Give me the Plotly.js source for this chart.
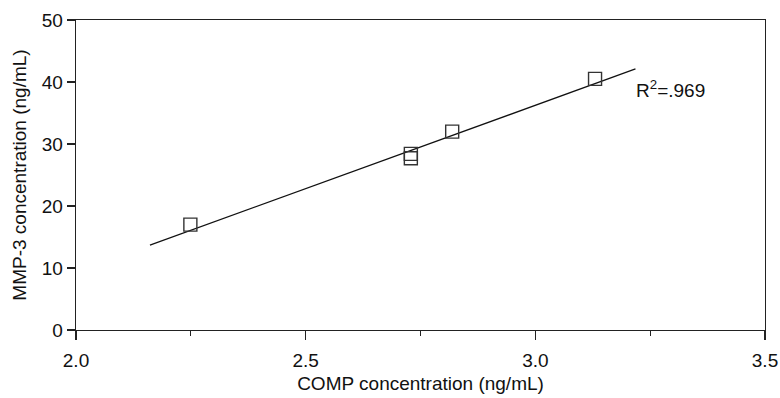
<!DOCTYPE html>
<html>
<head>
<meta charset="utf-8">
<script src="https://cdn.plot.ly/plotly-3.0.1.min.js"></script>
<style>html,body{margin:0;padding:0;background:#fff;}#chart{width:780px;height:398px;}</style>
</head>
<body>
<div id="chart"></div>
<script>
// Observed data (COMP vs MMP-3)
const compValues = [2.249, 2.729, 2.729, 2.819, 3.130];
const mmp3Values = [17.0, 28.4, 27.7, 32.0, 40.5];
// Regression line endpoints as drawn
const fitX = [2.161, 3.218];
const fitY = [13.7, 42.1];
const xTickVals = [2.0, 2.5, 3.0, 3.5];
const xTickText = ['2.0', '2.5', '3.0', '3.5'];
const yTickVals = [0, 10, 20, 30, 40, 50];
const r2Label = 'R<sup>2</sup>=.969';

const font = {family: 'Liberation Sans, Arial, sans-serif', size: 19, color: '#111'};

const traces = [
  {x: fitX, y: fitY, mode: 'lines', type: 'scatter',
   line: {color: '#111', width: 1.3}, hoverinfo: 'skip'},
  {x: compValues, y: mmp3Values, mode: 'markers', type: 'scatter',
   marker: {symbol: 'square-open', size: 13, color: '#333', line: {width: 1.4, color: '#333'}}}
];

const layout = {
  width: 780, height: 398,
  margin: {l: 76, r: 15, t: 20, b: 68},
  paper_bgcolor: '#fff', plot_bgcolor: '#fff',
  showlegend: false,
  font: font,
  xaxis: {
    range: [2.0, 3.5], tickvals: xTickVals, ticktext: xTickText,
    showgrid: false, zeroline: false,
    showline: true, linecolor: '#222', linewidth: 1.3, mirror: true,
    ticks: 'outside', ticklen: 9, tickwidth: 1.3, tickcolor: '#222',
    ticklabelstandoff: 4,
    minor: {dtick: 0.25, ticks: 'outside', ticklen: 5, tickwidth: 1.3, tickcolor: '#222', showgrid: false},
    tickfont: font,
    title: {text: 'COMP concentration (ng/mL)', font: font, standoff: 6}
  },
  yaxis: {
    range: [0, 50], tickvals: yTickVals,
    showgrid: false, zeroline: false,
    showline: true, linecolor: '#222', linewidth: 1.3, mirror: true,
    ticks: 'outside', ticklen: 8, tickwidth: 1.3, tickcolor: '#222',
    tickfont: font,
    title: {text: 'MMP-3 concentration (ng/mL)', font: font, standoff: 10}
  },
  annotations: [{
    x: 3.214, y: 38.9, xref: 'x', yref: 'y', text: r2Label, showarrow: false,
    xanchor: 'left', yanchor: 'middle', font: font
  }]
};

Plotly.newPlot('chart', traces, layout, {displayModeBar: false, staticPlot: true});
</script>
</body>
</html>
